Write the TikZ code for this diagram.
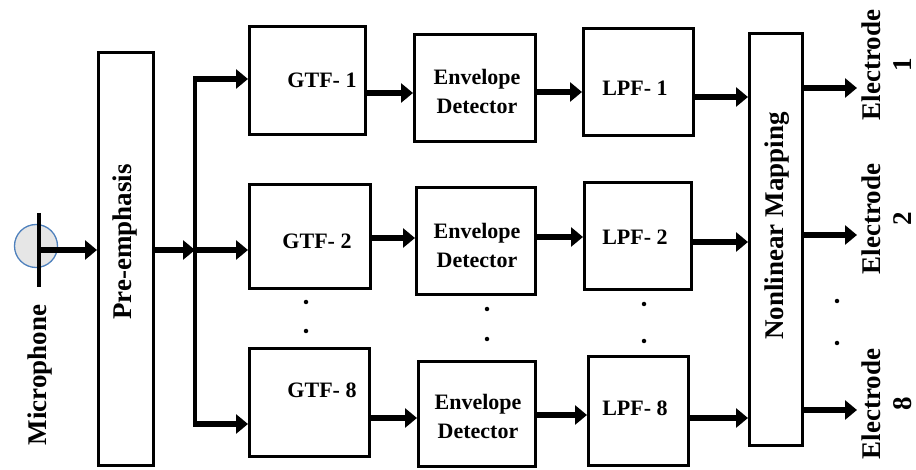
\documentclass[tikz,border=0pt]{standalone}
\usepackage{fontspec}
\setmainfont{Liberation Serif}
\usetikzlibrary{arrows.meta,fit}
\definecolor{micblue}{HTML}{4F81BD}
\definecolor{micfill}{HTML}{E6E6E6}
\begin{document}
\begin{tikzpicture}[x=1pt,y=-1pt,
  blk/.style={draw, line width=3pt, inner sep=0pt},
  arr/.style={line width=6pt, -{Triangle[length=12pt,width=19pt]}},
  lbl/.style={font=\fontsize{22}{29}\selectfont\bfseries, inner sep=0pt, align=center},
  rlbl/.style={font=\fontsize{27}{31}\selectfont\bfseries, inner sep=0pt, align=center, rotate=90},
  dotmark/.style={circle, fill=black, inner sep=0pt, minimum size=4.5pt}]
\useasboundingbox (0,0) rectangle (916,470);

% microphone
\node[circle, draw=micblue, fill=micfill, line width=1.3pt, minimum size=43pt, inner sep=0pt] (mic) at (36,246) {};
\coordinate (mt) at (39,213);
\coordinate (mb) at (39,287);
\draw[line width=3.5pt] (mt) -- (mb);
\node[rlbl] (miclbl) at (40,375) {Microphone};

% blocks
\node[blk, fit={(98.5,52.5) (153.5,465.5)}] (pre) {};
\node[rlbl] (prelbl) at (125,242) {Pre-emphasis};

\node[blk, fit={(249.5,26.5) (365.5,134.5)}] (gtf1) {};
\node[blk, fit={(249.5,184.5) (370.5,288.5)}] (gtf2) {};
\node[blk, fit={(249.5,348.5) (369.5,456.5)}] (gtf8) {};
\node[lbl] (g1t) at (322,80) {GTF- 1};
\node[lbl] (g2t) at (317,241) {GTF- 2};
\node[lbl] (g8t) at (322,390) {GTF- 8};

\node[blk, fit={(414.5,34.5) (535.5,141.5)}] (env1) {};
\node[blk, fit={(416.5,187.5) (535.5,294.5)}] (env2) {};
\node[blk, fit={(418.5,361.5) (535.5,466.5)}] (env8) {};
\node[lbl] (e1t) at (477,91) {Envelope\\Detector};
\node[lbl] (e2t) at (477,245) {Envelope\\Detector};
\node[lbl] (e8t) at (478,416) {Envelope\\Detector};

\node[blk, fit={(583.5,28.5) (693.5,135.5)}] (lpf1) {};
\node[blk, fit={(584.5,182.5) (691.5,289.5)}] (lpf2) {};
\node[blk, fit={(588.5,356.5) (688.5,465.5)}] (lpf8) {};
\node[lbl] (l1t) at (635,88) {LPF- 1};
\node[lbl] (l2t) at (635,237) {LPF- 2};
\node[lbl] (l8t) at (635,408) {LPF- 8};

\node[blk, fit={(749.5,33.5) (802.5,445.5)}] (nlm) {};
\node[rlbl] (nlmlbl) at (777,226) {Nonlinear Mapping};

% electrode labels
\node[rlbl] (el1) at (887,65) {Electrode\\1};
\node[rlbl] (el2) at (887,219) {Electrode\\2};
\node[rlbl] (el8) at (887,404) {Electrode\\8};

% dots
\node[dotmark] (d1) at (306,302) {};
\node[dotmark] (d2) at (306,331) {};
\node[dotmark] (d3) at (487,309) {};
\node[dotmark] (d4) at (487,339) {};
\node[dotmark] (d5) at (644,304) {};
\node[dotmark] (d6) at (644,341) {};
\node[dotmark] (d7) at (837,301) {};
\node[dotmark] (d8) at (837,343) {};

% connectors
\coordinate (ma) at (39,250);
\draw[arr] (ma) -- (pre.west |- ma);

\coordinate (bt) at (195,79);
\coordinate (bm) at (195,250);
\coordinate (bb) at (195,424);
\draw[line width=4pt] (bt) -- (bb);
\draw[arr] (pre.east |- bm) -- (bm);
\draw[arr] ([xshift=-2pt]bt) -- (gtf1.west |- bt);
\draw[arr] (bm) -- (gtf2.west |- bm);
\draw[arr] ([xshift=-2pt]bb) -- (gtf8.west |- bb);

\coordinate (r1a) at (0,93);
\coordinate (r1b) at (0,92);
\coordinate (r1c) at (0,97);
\coordinate (r2a) at (0,238);
\coordinate (r2b) at (0,237);
\coordinate (r2c) at (0,242);
\coordinate (r8a) at (0,418);
\coordinate (r8b) at (0,415);
\coordinate (r8c) at (0,418);

\draw[arr] (gtf1.east |- r1a) -- (env1.west |- r1a);
\draw[arr] (env1.east |- r1b) -- (lpf1.west |- r1b);
\draw[arr] (lpf1.east |- r1c) -- (nlm.west |- r1c);
\draw[arr] (gtf2.east |- r2a) -- (env2.west |- r2a);
\draw[arr] (env2.east |- r2b) -- (lpf2.west |- r2b);
\draw[arr] (lpf2.east |- r2c) -- (nlm.west |- r2c);
\draw[arr] (gtf8.east |- r8a) -- (env8.west |- r8a);
\draw[arr] (env8.east |- r8b) -- (lpf8.west |- r8b);
\draw[arr] (lpf8.east |- r8c) -- (nlm.west |- r8c);

\coordinate (o1) at (857,88);
\coordinate (o2) at (857,235);
\coordinate (o8) at (857,410);
\draw[arr] (nlm.east |- o1) -- (o1);
\draw[arr] (nlm.east |- o2) -- (o2);
\draw[arr] (nlm.east |- o8) -- (o8);
\end{tikzpicture}
\end{document}
